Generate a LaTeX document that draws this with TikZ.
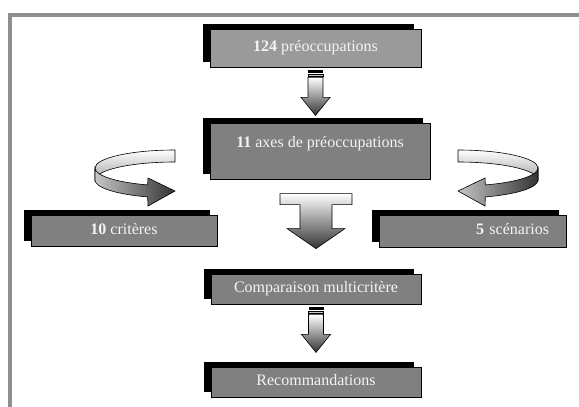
\documentclass[tikz,border=0pt]{standalone}
\usepackage{fontspec}
\setmainfont{Liberation Serif}
\usetikzlibrary{shadows}
\definecolor{framegray}{HTML}{8F8F8F}
\definecolor{lightbox}{HTML}{9A9A9A}
\definecolor{darkbox}{HTML}{808080}
\definecolor{boxtext}{HTML}{F4F4F4}
\tikzset{
  stage/.style={draw=black, line width=0.8pt, fill=darkbox, text=boxtext,
    font=\fontsize{16}{19}\selectfont, inner sep=0pt, text height=11pt, text depth=3.5pt,
    general shadow={fill=black, draw=none, shadow xshift=-7pt, shadow yshift=5pt}},
  stripedarrow/.pic={
    \fill[black] (-7.5,0) rectangle (7.5,2.5);%
    \draw[line width=0.5pt, fill=gray!45] (-7.5,3.5) rectangle (7.5,6);%
    \draw[line width=0.6pt, top color=white, bottom color=black!80]
      (-7.5,7) -- (7.5,7) -- (7.5,27) -- (14.5,27) -- (0,45) -- (-14.5,27) -- (-7.5,27) -- cycle;%
  },
  teearrow/.pic={
    \draw[line width=0.6pt, top color=white, bottom color=black!80]
      (-36,0) -- (36,0) -- (36,11) -- (16,11) -- (16,35) -- (29,35) -- (0,55)
      -- (-29,35) -- (-16,35) -- (-16,11) -- (-36,11) -- cycle;%
  },
  ringarrow/.pic={
    \draw[line width=0.6pt, top color=white, bottom color=gray!70]
      (0,-18) arc (-90:-180:80 and 18) -- ++(0,12) arc (180:270:80 and 18) -- cycle;%
    \draw[line width=0.6pt, left color=gray!45, right color=black!80]
      (-80,0) arc (180:110:80 and 18) -- (-27,10) -- (0,23) -- (-27,38)
      -- (-27.36,28.91) arc (110:180:80 and 18) -- cycle;%
  }
}
\begin{document}
\begin{tikzpicture}[x=1pt, y=-1pt]
                \useasboundingbox (0,0) rectangle (579,407);
                
                % Drawing frame
                \draw [line width=4pt, framegray] (10.3,407) -- (10.3,15) -- (579,15);%
                
                % Marking boxes
                \node [stage, fill=lightbox, minimum width=211, minimum height=38] (prec) at (315.5,48) {\textbf{124} préoccupations};%
                \node [stage, minimum width=220, minimum height=56, text height=24pt, text depth=32pt] (axes) at (320,151) {\textbf{11} axes de préoccupations};%
                \node [stage, minimum width=186, minimum height=31] (crit) at (124,230.5) {\textbf{10} critères};%
                \node [stage, minimum height=32, text width=153, inner xsep=17pt, align=right] (scen) at (472.5,231) {\textbf{5} scénarios};%
                \node [stage, minimum width=210, minimum height=30] (comp) at (316,289) {Comparaison multicritère};%
                \node [stage, minimum width=210, minimum height=30] (reco) at (316,382) {Recommandations};%
                
                % Drawing arrows
                \pic at ([yshift=-3pt]prec.south) {stripedarrow};%
                \pic at (175,168) {ringarrow};%
                \pic [xscale=-1] at (458,168) {ringarrow};%
                \pic at ([yshift=80pt]comp.north) {teearrow};%
                \pic at ([yshift=-3pt]comp.south) {stripedarrow};%
\end{tikzpicture}
\end{document}
